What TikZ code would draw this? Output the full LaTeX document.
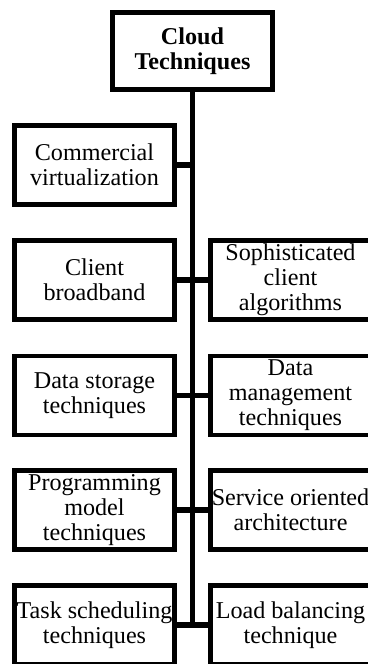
\documentclass[tikz,border=0pt]{standalone}
\usepackage{fontspec}
\setmainfont{Liberation Serif}
\usepackage{tikz}
\usetikzlibrary{positioning}

\tikzset{
    box/.style={rectangle, minimum width=4.8cm, minimum height=2.37cm, text centered, draw, line width=4.2pt, align=center, inner sep=0pt, font=\fontsize{20.6}{21.4}\selectfont},
    rootbox/.style={box, minimum height=2.31cm, font=\fontsize{20.6}{21.4}\selectfont\bfseries},
    link/.style={-, line width=4.8pt}
}

\begin{document}
\begin{tikzpicture}[x=0.03cm, y=-0.03cm]
    \clip (0,0) rectangle (368,664);
    \fill[white] (0,0) rectangle (368,664);

    % Techniques
    \node[rootbox] (cloud) at (192.5,51) {Cloud\\ Techniques};
    \node[box] (commercial) at (94.5,165) {Commercial\\ virtualization};
    \node[box] (broadband) at (94.5,280) {Client\\ broadband};
    \node[box] (sophisticated) at (290.5,280) {Sophisticated\\ client\\ algorithms};
    \node[box] (storage) at (94.5,395.5) {Data storage\\ techniques};
    \node[box] (management) at (290.5,395.5) {Data\\ management\\ techniques};
    \node[box] (programming) at (94.5,510) {Programming\\ model\\ techniques};
    \node[box] (soa) at (290.5,510) {Service oriented\\ architecture};
    \node[box] (scheduling) at (94.5,625) {Task scheduling\\ techniques};
    \node[box] (balancing) at (290.5,625) {Load balancing\\ technique};

    % Trunk
    \draw[link] (cloud.south) -- (cloud.south |- scheduling.east);

    % Branches
    \draw[link] (commercial.east) -- (commercial.east -| cloud.south);
    \draw[link] (broadband.east) -- (sophisticated.west);
    \draw[link] (storage.east) -- (management.west);
    \draw[link] (programming.east) -- (soa.west);
    \draw[link] (scheduling.east) -- (balancing.west);
\end{tikzpicture}
\end{document}
